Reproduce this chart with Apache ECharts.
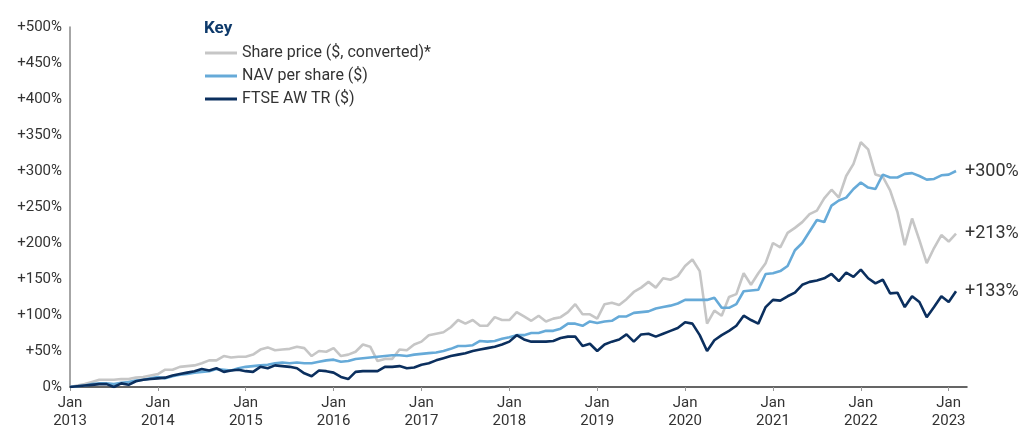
<!DOCTYPE html>
<html>
<head>
<meta charset="utf-8">
<script src="https://cdn.jsdelivr.net/npm/echarts@6/dist/echarts.min.js"></script>
<style>
html,body{margin:0;padding:0;background:#fff;}
#chart{width:1024px;height:430px;}
</style>
</head>
<body>
<div id="chart"></div>
<script>
// Monthly month-end points, Jan 2013 start (index 0) to Jan 2023 (index 121)
const years = ['2013','2014','2015','2016','2017','2018','2019','2020','2021','2022','2023'];
const seriesNames = ['Share price ($, converted)*', 'NAV per share ($)', 'FTSE AW TR ($)'];
const endLabels = ['+213%', '+300%', '+133%'];

const sharePrice = [
  0, 2, 4, 7, 10, 10, 10, 11, 11, 13,
  14, 16, 18, 24, 24, 28, 29, 30, 33, 37,
  37, 43, 41, 42, 42, 45, 52, 55, 51, 52,
  53, 56, 54, 43, 50, 49, 54, 43, 45, 49,
  59, 56, 36, 39, 39, 52, 51, 59, 63, 72,
  74, 76, 83, 93, 88, 93, 85, 85, 97, 93,
  93, 104, 98, 92, 99, 91, 95, 97, 104, 115,
  101, 101, 95, 115, 117, 114, 122, 132, 138, 146,
  138, 151, 149, 154, 168, 177, 161, 88, 106, 99,
  125, 129, 158, 142, 158, 172, 200, 194, 214, 221,
  229, 240, 245, 262, 274, 263, 293, 310, 340, 330,
  295, 292, 273, 243, 197, 234, 204, 172, 193, 211,
  202, 213
];
const navPerShare = [
  0, 1, 2, 4, 5, 5, 4, 6, 7, 9,
  10, 12, 14, 12, 15, 17, 18, 20, 21, 22,
  25, 24, 23, 26, 28, 29, 30, 31, 33, 34,
  33, 34, 33, 33, 35, 37, 38, 35, 36, 39,
  40, 41, 42, 43, 44, 44, 43, 45, 46, 47,
  48, 50, 53, 57, 57, 58, 64, 63, 64, 67,
  69, 72, 72, 75, 75, 78, 78, 81, 88, 88,
  85, 91, 89, 91, 92, 98, 98, 103, 104, 105,
  109, 111, 113, 116, 121, 121, 121, 121, 124, 110,
  110, 115, 133, 134, 135, 157, 158, 161, 168, 190,
  200, 216, 232, 229, 252, 259, 263, 275, 284, 277,
  275, 295, 291, 291, 296, 297, 293, 288, 289, 294,
  295, 300
];
const ftseAW = [
  0, 1, 2, 3, 4, 4, 0, 5, 3, 8,
  10, 11, 12, 13, 16, 18, 20, 22, 25, 23,
  26, 21, 23, 24, 22, 21, 28, 26, 30, 29,
  28, 26, 19, 15, 23, 22, 20, 14, 11, 21,
  22, 22, 22, 28, 28, 29, 26, 27, 31, 33,
  37, 40, 43, 45, 47, 50, 52, 54, 56, 59,
  63, 72, 66, 63, 63, 63, 64, 68, 70, 70,
  57, 60, 50, 59, 63, 66, 73, 63, 73, 74,
  70, 74, 78, 82, 90, 88, 72, 50, 65, 72,
  78, 85, 99, 93, 88, 111, 121, 120, 126, 131,
  142, 146, 148, 151, 157, 147, 159, 153, 163, 151,
  144, 149, 130, 131, 111, 126, 118, 97, 111, 126,
  118, 133
];

const colors = ['#c6c6c6', '#66aad8', '#0b2f5e'];
const allData = [sharePrice, navPerShare, ftseAW];
const FONT = 'Roboto';

const chart = echarts.init(document.getElementById('chart'), null, {renderer: 'canvas'});
const series = allData.map((arr, idx) => ({
  name: seriesNames[idx],
  type: 'line',
  data: arr.map((v, i) => [i, v]),
  showSymbol: false,
  symbol: 'none',
  lineStyle: {color: colors[idx], width: 2.6},
  itemStyle: {color: colors[idx]},
  z: 2 + idx,
  endLabel: {
    show: true,
    formatter: () => endLabels[idx],
    distance: 9,
    fontFamily: FONT,
    fontSize: 18,
    color: '#333'
  }
}));

chart.setOption({
  animation: false,
  backgroundColor: '#fff',
  textStyle: {fontFamily: FONT},
  title: {
    text: 'Key',
    left: 199,
    top: 15,
    textStyle: {fontFamily: FONT, fontWeight: 'bold', fontSize: 17, color: '#0e3a6b'}
  },
  legend: {
    orient: 'vertical',
    left: 200,
    top: 39,
    icon: 'rect',
    itemWidth: 32,
    itemHeight: 3,
    itemGap: 5,
    textStyle: {fontFamily: FONT, fontSize: 16, color: '#333', lineHeight: 18},
    data: seriesNames
  },
  grid: {left: 70, right: 57, top: 27, bottom: 38, containLabel: false},
  xAxis: {
    type: 'value',
    min: 0,
    max: 122.5,
    interval: 12,
    splitLine: {show: false},
    axisLine: {show: true, lineStyle: {color: '#333', width: 1.5}},
    axisTick: {show: true, length: 4, lineStyle: {color: '#999'}},
    axisLabel: {
      showMaxLabel: false,
      fontFamily: FONT,
      fontSize: 15,
      lineHeight: 18,
      color: '#333',
      margin: 7,
      formatter: v => 'Jan\n' + years[Math.round(v / 12)]
    }
  },
  yAxis: {
    type: 'value',
    min: 0,
    max: 500,
    interval: 50,
    splitLine: {show: false},
    axisLine: {show: true, lineStyle: {color: '#888', width: 1.5}},
    axisTick: {show: false},
    axisLabel: {
      fontFamily: FONT,
      fontSize: 15,
      color: '#333',
      margin: 8,
      formatter: v => v === 0 ? '0%' : '+' + v + '%'
    }
  },
  series: series
});
</script>
</body>
</html>
